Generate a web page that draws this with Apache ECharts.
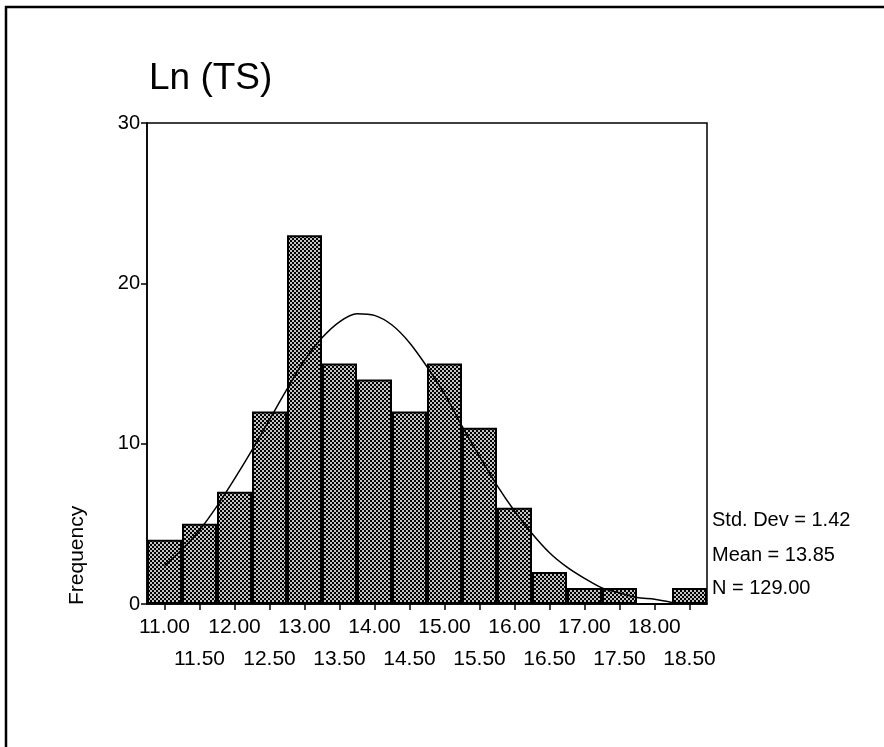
<!DOCTYPE html>
<html>
<head>
<meta charset="utf-8">
<script src="https://cdn.jsdelivr.net/npm/echarts@6/dist/echarts.min.js"></script>
<style>html,body{margin:0;padding:0;background:#fff;}#c{width:884px;height:747px;}</style>
</head>
<body>
<div id="c"></div>
<script>
// ---- data ----
const titleText = 'Ln (TS)';
const yAxisName = 'Frequency';
const binLabels = ['11.00','11.50','12.00','12.50','13.00','13.50','14.00','14.50','15.00','15.50','16.00','16.50','17.00','17.50','18.00','18.50'];
const frequencies = [4, 5, 7, 12, 23, 15, 14, 12, 15, 11, 6, 2, 1, 1, 0, 1];
const curveX = [11.00,11.25,11.50,11.75,12.00,12.25,12.50,12.75,13.00,13.25,13.50,13.75,14.00,14.25,14.50,14.75,15.00,15.25,15.50,15.75,16.00,16.25,16.50,16.75,17.00,17.25,17.50,17.75,18.00,18.25];
const curveY = [2.4,3.4,4.6,6.1,7.8,9.6,11.5,13.4,15.2,16.6,17.6,18.1,18.0,17.4,16.3,14.8,13.1,11.1,9.2,7.4,5.8,4.4,3.2,2.3,1.6,1.0,0.7,0.4,0.3,0.1];
const yTicks = [0, 10, 20, 30];
const statsLines = ['Std. Dev = 1.42', 'Mean = 13.85', 'N = 129.00'];

const FONT = '"Liberation Sans", Arial, Helvetica, sans-serif';

// checkered fill pattern
const pc = document.createElement('canvas');
pc.width = 4; pc.height = 4;
const pctx = pc.getContext('2d');
pctx.fillStyle = '#000'; pctx.fillRect(0,0,4,4);
pctx.fillStyle = '#c4c4c4';
pctx.fillRect(0,0,2,2); pctx.fillRect(2,2,2,2);

const chart = echarts.init(document.getElementById('c'), null, {renderer:'canvas'});
const curveData = curveX.map((x,i)=>[x, curveY[i]]);

chart.setOption({
  backgroundColor: '#fff',
  animation: false,
  grid: {left:147, right:177, top:123, bottom:143, show:true, borderColor:'#000', borderWidth:1.5, backgroundColor:'transparent'},
  xAxis: [{
    type:'category', data: binLabels, boundaryGap:true,
    axisLine:{show:true, lineStyle:{color:'#000', width:1.5}},
    axisTick:{show:true, alignWithLabel:true, length:6, lineStyle:{color:'#000', width:1.5}},
    axisLabel:{interval:0, margin:7, color:'#000', fontFamily:FONT, fontSize:21, lineHeight:32,
      formatter:(v,i)=> (i % 2 === 1 ? '\n' + v : v)},
    splitLine:{show:false}
  },{
    type:'value', min:10.75, max:18.75, show:false
  }],
  yAxis: {
    type:'value', min:0, max:30, interval:10,
    axisLine:{show:true, lineStyle:{color:'#000', width:1.5}},
    axisTick:{show:true, length:6, lineStyle:{color:'#000', width:1.5}},
    axisLabel:{margin:7, color:'#000', fontFamily:FONT, fontSize:20, formatter:(v)=> yTicks.indexOf(v)>=0 ? String(v) : ''},
    splitLine:{show:false}
  },
  series: [{
    type:'bar', data: frequencies, xAxisIndex:0, barCategoryGap:0, barGap:0, barWidth:'100%',
    itemStyle:{color:{image:pc, repeat:'repeat'}, borderColor:'#000', borderWidth:2},
    z:2
  },{
    type:'line', data: curveData, xAxisIndex:1, smooth:0.3, showSymbol:false, symbol:'none',
    lineStyle:{color:'#000', width:1.5}, z:5
  }],
  graphic: [
    {type:'line', shape:{x1:5, y1:7, x2:884, y2:7}, style:{stroke:'#000', lineWidth:2.5}},
    {type:'line', shape:{x1:6, y1:6, x2:6, y2:747}, style:{stroke:'#000', lineWidth:2.5}},
    {type:'text', x:149, y:79, style:{text:titleText, font:'37px ' + FONT, fill:'#000', verticalAlign:'middle', align:'left'}},
    {type:'text', x:77, y:605, rotation:Math.PI/2, style:{text:yAxisName, font:'21px ' + FONT, fill:'#000', verticalAlign:'middle', align:'left'}},
    {type:'text', x:712, y:520, style:{text:statsLines[0], font:'20px ' + FONT, fill:'#000', verticalAlign:'middle'}},
    {type:'text', x:712, y:555, style:{text:statsLines[1], font:'20px ' + FONT, fill:'#000', verticalAlign:'middle'}},
    {type:'text', x:712, y:588, style:{text:statsLines[2], font:'20px ' + FONT, fill:'#000', verticalAlign:'middle'}}
  ]
});
</script>
</body>
</html>
